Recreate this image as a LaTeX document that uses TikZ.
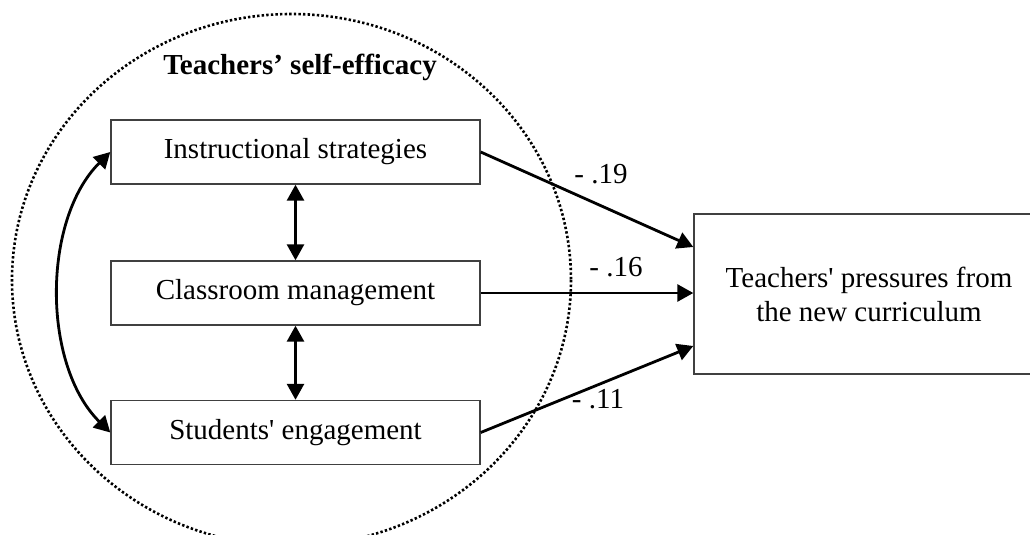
\documentclass[tikz,border=0pt]{standalone}
\usepackage{fontspec}
\setmainfont{Liberation Serif}[Ligatures=TeXOff]
\usetikzlibrary{arrows.meta,calc}
\tikzset{
  box/.style={draw=black!75, line width=1.4pt, fill=white, minimum width=369pt, minimum height=64pt, inner sep=0pt, font=\fontsize{29}{34}\selectfont},
  bigbox/.style={draw=black!75, line width=1.4pt, fill=white, minimum width=350pt, minimum height=160pt, inner sep=0pt, align=center, font=\fontsize{29}{34}\selectfont},
  conn/.style={line width=2.8pt, -{Triangle[length=16pt,width=17pt]}},
  biconn/.style={line width=2.8pt, {Triangle[length=16pt,width=17pt]}-{Triangle[length=16pt,width=17pt]}},
  coef/.style={anchor=base, inner sep=0pt, font=\fontsize{29}{34}\selectfont},
  dotring/.style={line width=2.6pt, dash pattern=on 2.4pt off 2.2pt}
}
\begin{document}
\begin{tikzpicture}[x=1pt,y=-1pt]
\useasboundingbox (0,0) rectangle (1030,535);
\draw[dotring] (291.5,280) ellipse [x radius=279.5, y radius=266];
\node[inner sep=0pt, font=\fontsize{29}{34}\selectfont\bfseries] (title) at (300,67) {Teachers’ self-efficacy};
\node[box] (IS) at (295.5,152) {Instructional strategies};
\node[box] (CM) at (295.5,293) {Classroom management};
\node[box] (SE) at (295.5,432.5) {Students' engagement};
\node[bigbox] (P) at (869,294) {Teachers' pressures from\\the new curriculum};
\draw[biconn] (IS.south) -- (CM.north);
\draw[biconn] (CM.south) -- (SE.north);
\draw[biconn] (IS.west) .. controls (42,220) and (42,365) .. (SE.west);
\coordinate (pt) at ([yshift=47pt]P.west);
\coordinate (pb) at ([yshift=-52pt]P.west);
\draw[conn] (IS.east) -- (pt);
\draw[conn] (CM.east) -- (CM.east -| P.west);
\draw[conn] (SE.east) -- (pb);
\node[coef] (l1) at (601,183) {- .19};
\node[coef] (l2) at (616,276) {- .16};
\node[coef] (l3) at (598,408) {- .11};
\end{tikzpicture}
\end{document}
